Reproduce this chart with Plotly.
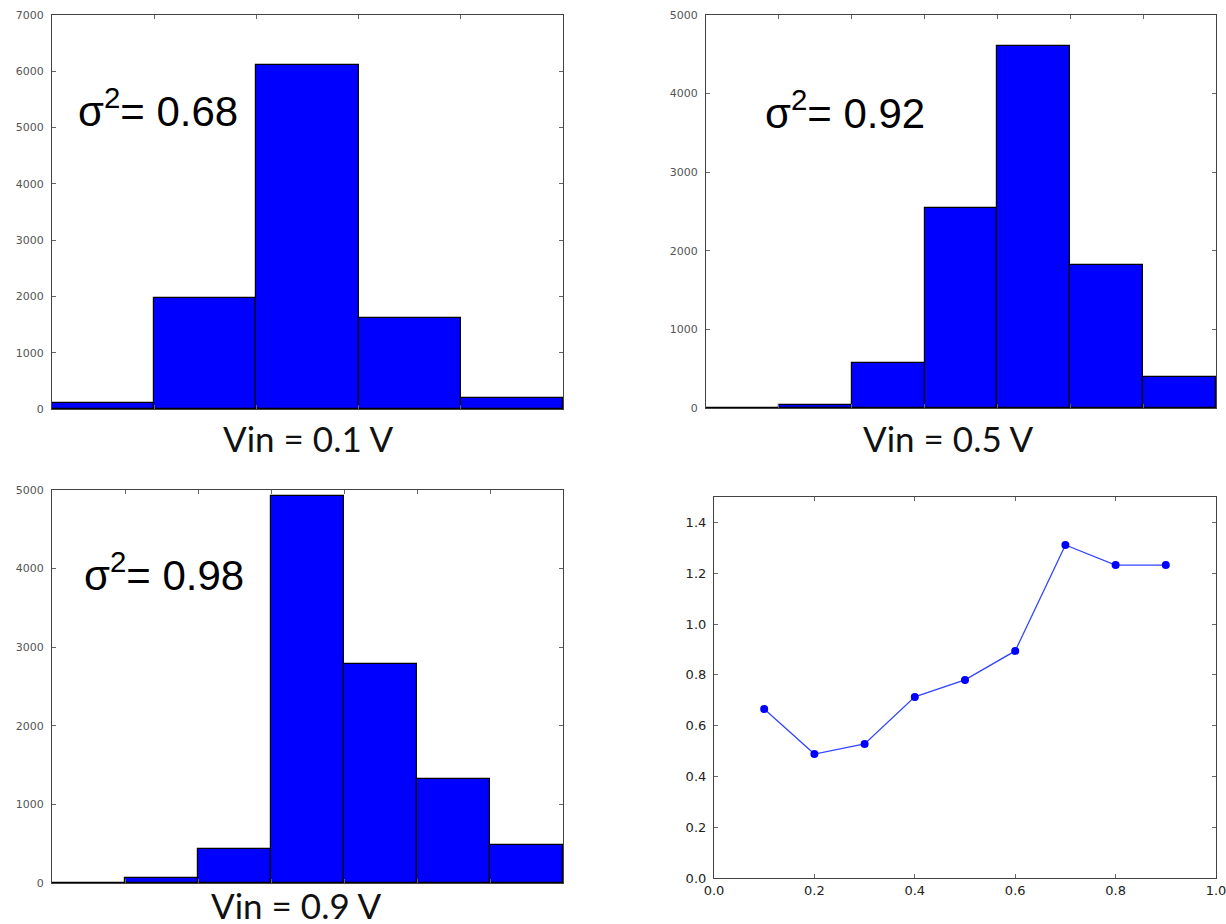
import plotly.graph_objects as go

W, H = 1226, 924

# ---- data ----
bins_01 = [0.5, 1.5, 2.5, 3.5, 4.5]
counts_01 = [115, 1970, 6110, 1610, 190]

bins_05 = [0.5, 1.5, 2.5, 3.5, 4.5, 5.5, 6.5]
counts_05 = [5, 40, 576, 2550, 4610, 1815, 400]

bins_09 = [0.5, 1.5, 2.5, 3.5, 4.5, 5.5, 6.5]
counts_09 = [5, 65, 430, 4925, 2786, 1319, 483]

vin = [0.1, 0.2, 0.3, 0.4, 0.5, 0.6, 0.7, 0.8, 0.9]
variance = [0.665, 0.488, 0.528, 0.713, 0.78, 0.894, 1.311, 1.232, 1.232]

labels = ["Vin = 0.1 V", "Vin = 0.5 V", "Vin = 0.9 V"]
sigma_vals = ["0.68", "0.92", "0.98"]


def px_x(p):
    return p / W


def px_y(p):
    return 1 - p / H


fig = go.Figure()

BLUE = "#0000ff"
bar_style = dict(marker=dict(color=BLUE, line=dict(color="#000000", width=1.2)), width=1.0, showlegend=False)

fig.add_trace(go.Bar(x=bins_01, y=counts_01, xaxis="x", yaxis="y", **bar_style))
fig.add_trace(go.Bar(x=bins_05, y=counts_05, xaxis="x2", yaxis="y2", **bar_style))
fig.add_trace(go.Bar(x=bins_09, y=counts_09, xaxis="x3", yaxis="y3", **bar_style))
fig.add_trace(go.Scatter(x=vin, y=variance, xaxis="x4", yaxis="y4", mode="lines+markers",
                         line=dict(color="#3344ff", width=1.3),
                         marker=dict(color=BLUE, size=8), showlegend=False))

axis_common = dict(showline=True, linecolor="#444444", linewidth=1.2, mirror="ticks",
                   ticks="inside", ticklen=4, tickcolor="#666666", showgrid=False, zeroline=False,
                   ticklabeloverflow="allow")

tick_font_small = dict(family="DejaVu Sans", size=11, color="#555555")
tick_font_big = dict(family="DejaVu Sans", size=13, color="#222222")

panels = {
    "1": dict(x0=52, x1=563, y0=15, y1=409, yr=[0, 7000], dt=1000, nb=5),
    "2": dict(x0=706, x1=1216, y0=15, y1=408, yr=[0, 5000], dt=1000, nb=7),
    "3": dict(x0=52, x1=563, y0=490, y1=883, yr=[0, 5000], dt=1000, nb=7),
}

layout = dict(width=W, height=H, margin=dict(l=0, r=0, t=0, b=0, autoexpand=False),
              paper_bgcolor="white", plot_bgcolor="white", bargap=0)

for k, p in panels.items():
    xn = "xaxis" if k == "1" else f"xaxis{k}"
    yn = "yaxis" if k == "1" else f"yaxis{k}"
    anchor_y = "y" if k == "1" else f"y{k}"
    anchor_x = "x" if k == "1" else f"x{k}"
    layout[xn] = dict(domain=[px_x(p["x0"]), px_x(p["x1"])], range=[0, p["nb"]], anchor=anchor_y,
                      tickvals=list(range(1, p["nb"])), showticklabels=False, **axis_common)
    layout[yn] = dict(domain=[px_y(p["y1"]), px_y(p["y0"])], range=p["yr"], anchor=anchor_x,
                      dtick=p["dt"], tickfont=tick_font_small, ticklabelstandoff=5, **axis_common)

layout["xaxis4"] = dict(domain=[px_x(714), px_x(1216)], range=[0, 1], anchor="y4", dtick=0.2,
                        tickformat=".1f", tickfont=tick_font_big, **axis_common)
layout["yaxis4"] = dict(domain=[px_y(878), px_y(497)], range=[0, 1.5], anchor="x4", dtick=0.2,
                        tickformat=".1f", tickfont=tick_font_big, ticklabelstandoff=4, **axis_common)

fig.update_layout(**layout)

label_font = dict(family="Lato, Open Sans, sans-serif", size=35, color="#111111")
label_pos = [(308, 438), (948, 438), (296, 905)]
for txt, (lx, ly) in zip(labels, label_pos):
    fig.add_annotation(x=px_x(lx), y=px_y(ly), xref="paper", yref="paper", text=txt,
                       showarrow=False, xanchor="center", yanchor="middle", font=label_font)

sig_font = dict(family="Liberation Sans Narrow, Liberation Sans, Arial, sans-serif", size=42, color="#000000")
sig_pos = [(76, 108), (763, 110), (82, 572)]
for val, (sx, sy) in zip(sigma_vals, sig_pos):
    fig.add_annotation(x=px_x(sx), y=px_y(sy), xref="paper", yref="paper",
                       text=f"σ<sup>2</sup>= {val}", showarrow=False,
                       xanchor="left", yanchor="middle", font=sig_font)

fig.write_html("out.html", config={"displayModeBar": False},
               post_script="document.body.style.margin='0';")
